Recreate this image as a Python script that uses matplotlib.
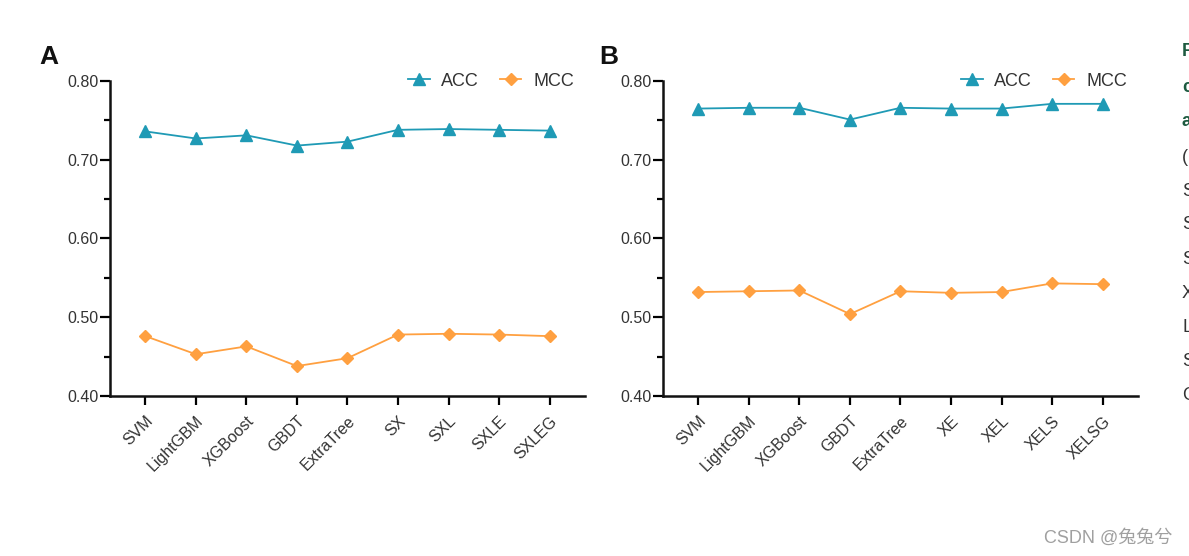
import matplotlib
matplotlib.use("Agg")
import matplotlib.pyplot as plt
from matplotlib.ticker import MultipleLocator, FormatStrFormatter

models_a = ["SVM", "LightGBM", "XGBoost", "GBDT", "ExtraTree", "SX", "SXL", "SXLE", "SXLEG"]
models_b = ["SVM", "LightGBM", "XGBoost", "GBDT", "ExtraTree", "XE", "XEL", "XELS", "XELSG"]
acc_a = [0.736, 0.727, 0.731, 0.718, 0.723, 0.738, 0.739, 0.738, 0.737]
mcc_a = [0.476, 0.453, 0.463, 0.438, 0.448, 0.478, 0.479, 0.478, 0.476]
acc_b = [0.765, 0.766, 0.766, 0.751, 0.766, 0.765, 0.765, 0.771, 0.771]
mcc_b = [0.532, 0.533, 0.534, 0.504, 0.533, 0.531, 0.532, 0.543, 0.542]
panel_letters = ["A", "B"]

ACC_COLOR = "#1f9ab5"
MCC_COLOR = "#ffa040"
TXT = "#333333"

plt.rcParams['font.family'] = ['Liberation Sans', 'DejaVu Sans']

fig = plt.figure(figsize=(11.89, 5.56), dpi=100)
fig.patch.set_facecolor("white")

positions = [[0.0925, 0.2878, 0.3995, 0.5665], [0.5576, 0.2878, 0.3995, 0.5665]]
letter_x = [39 / 1189, 599 / 1189]
datasets = [(models_a, acc_a, mcc_a), (models_b, acc_b, mcc_b)]

for pos, (models, acc, mcc), letter, lx in zip(positions, datasets, panel_letters, letter_x):
    ax = fig.add_axes(pos)
    x = list(range(len(models)))
    ax.plot(x, acc, color=ACC_COLOR, lw=1.3, marker="^", ms=9, label="ACC", clip_on=False)
    ax.plot(x, mcc, color=MCC_COLOR, lw=1.3, marker="D", ms=6.5, label="MCC", clip_on=False)
    ax.set_xlim(-0.7, 8.7)
    ax.set_ylim(0.40, 0.80)
    ax.yaxis.set_major_locator(MultipleLocator(0.10))
    ax.yaxis.set_minor_locator(MultipleLocator(0.05))
    ax.yaxis.set_major_formatter(FormatStrFormatter("%.2f"))
    ax.set_xticks(x)
    ax.set_xticklabels(models, rotation=45, ha="right", va="top", rotation_mode="anchor")
    for s in ["top", "right"]:
        ax.spines[s].set_visible(False)
    for s in ["left", "bottom"]:
        ax.spines[s].set_linewidth(1.8)
        ax.spines[s].set_color("#111111")
    ax.tick_params(axis="y", which="major", length=7, width=1.6, labelsize=11.5, labelcolor=TXT, pad=1)
    ax.tick_params(axis="y", which="minor", length=4, width=1.6)
    ax.tick_params(axis="x", which="major", length=6.5, width=1.6, labelsize=11.5, labelcolor=TXT, pad=6)
    ax.legend(loc="center right", bbox_to_anchor=(0.992, 1.0), ncol=2, frameon=False,
              fontsize=13, handlelength=1.2, handletextpad=0.65, columnspacing=1.15,
              borderaxespad=0, labelcolor=TXT)
    fig.text(lx, 1 - 57 / 556, letter, fontsize=19, fontweight="bold",
             ha="left", va="center", color="#111111")

# cropped caption fragments at the right edge
frag = [("F", 52, True), ("c", 88, True), ("a", 122, True), ("(", 157, False), ("S", 191, False),
        ("S", 225, False), ("S", 259, False), ("X", 293, False), ("L", 327, False),
        ("S", 361, False), ("C", 395, False)]
for ch, yy, bold in frag:
    fig.text(1182 / 1189, 1 - yy / 556, ch, fontsize=13, ha="left", va="center",
             fontweight="bold" if bold else "normal", color="#1d5a40" if bold else "#333333")

fig.text(1172 / 1189, 1 - 538 / 556, "CSDN @兔兔兮", fontsize=13, ha="right", va="center",
         color="#a0a0a0", family=['Liberation Sans', 'Noto Sans CJK SC'])

fig.savefig("out.png", dpi=100, facecolor="white")
